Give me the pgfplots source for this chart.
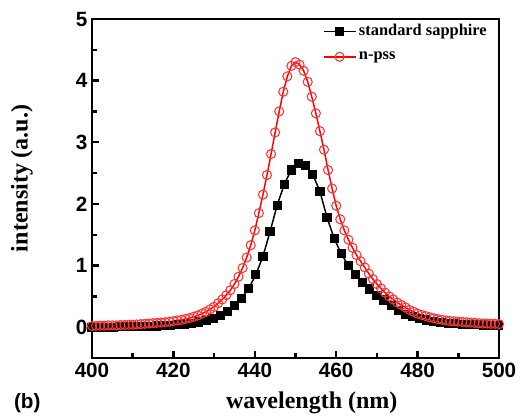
\documentclass[border=0pt]{standalone}
\usepackage{fontspec}
\setmainfont{Liberation Serif}
\setsansfont{Liberation Sans}
\usepackage{pgfplots}
\pgfplotsset{compat=1.18}

\pgfplotstableread{
x y
400 0.00
401.75 0.00
403.5 0.00
405.25 0.00
407 0.005
408.75 0.005
410.5 0.01
412.25 0.01
414 0.015
415.75 0.02
417.5 0.025
419.25 0.03
421 0.04
422.75 0.05
424.5 0.065
426.25 0.085
428 0.11
429.75 0.14
431.5 0.19
433.25 0.26
435 0.35
436.75 0.47
438.5 0.63
440.25 0.85
442 1.15
443.75 1.55
445.5 1.98
447.25 2.32
449 2.55
450.75 2.66
452.5 2.62
454.25 2.48
456 2.20
457.75 1.78
459.5 1.44
461.25 1.19
463 1.00
464.75 0.86
466.5 0.73
468.25 0.62
470 0.52
471.75 0.44
473.5 0.35
475.25 0.27
477 0.21
478.75 0.17
480.5 0.14
482.25 0.115
484 0.095
485.75 0.08
487.5 0.065
489.25 0.055
491 0.05
492.75 0.045
494.5 0.04
496.25 0.035
498 0.03
499.75 0.03
}\sapphire

\pgfplotstableread{
x y
400 0.02
401 0.02
402 0.025
403 0.025
404 0.03
405 0.03
406 0.03
407 0.035
408 0.035
409 0.04
410 0.04
411 0.045
412 0.05
413 0.055
414 0.06
415 0.065
416 0.07
417 0.075
418 0.08
419 0.09
420 0.10
421 0.11
422 0.12
423 0.135
424 0.15
425 0.17
426 0.19
427 0.22
428 0.25
429 0.29
430 0.33
431 0.39
432 0.45
433 0.52
434 0.60
435 0.70
436 0.82
437 0.96
438 1.13
439 1.33
440 1.57
441 1.85
442 2.15
443 2.47
444 2.81
445 3.16
446 3.50
447 3.82
448 4.07
449 4.24
450 4.30
451 4.26
452 4.16
453 3.98
454 3.74
455 3.47
456 3.18
457 2.88
458 2.55
459 2.25
460 1.97
461 1.75
462 1.57
463 1.42
464 1.29
465 1.17
466 1.07
467 0.97
468 0.87
469 0.78
470 0.70
471 0.63
472 0.56
473 0.50
474 0.45
475 0.40
476 0.36
477 0.32
478 0.28
479 0.25
480 0.22
481 0.20
482 0.18
483 0.16
484 0.145
485 0.13
486 0.12
487 0.11
488 0.10
489 0.095
490 0.09
491 0.085
492 0.08
493 0.075
494 0.07
495 0.065
496 0.06
497 0.06
498 0.055
499 0.055
500 0.05
}\npss

\begin{document}
\begin{tikzpicture}
\useasboundingbox (-69pt,-42.75pt) rectangle (321.75pt,268.5pt);
\begin{axis}[
  at={(0,0)}, anchor=south west,
  scale only axis, width=305.25pt, height=254.25pt,
  xmin=400, xmax=500, ymin=-0.5, ymax=5,
  xtick={400,420,...,500}, ytick={0,1,...,5},
  minor x tick num=1, minor y tick num=1,
  tick pos=left, tick align=inside,
  major tick length=5pt, minor tick length=3.5pt,
  every tick/.style={black, line width=1.8pt},
  axis line style={line width=2.2pt},
  /pgf/number format/assume math mode=true,
  ticklabel style={font=\sffamily\bfseries\fontsize{15.5}{18}\selectfont},
  xlabel={wavelength (nm)}, ylabel={intensity (a.u.)},
  label style={font=\rmfamily\bfseries\fontsize{18}{21}\selectfont},
  xlabel style={at={(axis description cs:0.54,-0.133)}, anchor=center},
  ylabel style={at={(axis description cs:-0.172,0.53)}, anchor=center},
  legend style={at={(1,1)}, anchor=north east, xshift=-6pt, yshift=-1pt,
    draw=none, fill=none, inner sep=1pt, row sep=6.5pt,
    font=\rmfamily\bfseries\fontsize{12.3}{14}\selectfont},
  legend cell align=left,
  legend image code/.code={\draw[mark repeat=2,mark phase=2,#1] plot coordinates {(0cm,0cm) (0.42cm,0cm) (0.84cm,0cm)};},
]
\addplot[black, line width=1.1pt, mark=square*, mark size=2.9pt, mark options={solid}] table {\sapphire};
\addlegendentry{standard sapphire}
\addplot[red, line width=1.1pt, mark=o, mark size=3.4pt, mark options={solid, line width=0.8pt, red!80!white}] table {\npss};
\addlegendentry{n-pss}
\end{axis}
\node[anchor=west, font=\sffamily\bfseries\fontsize{15.5}{18}\selectfont] at (-62pt,-33.75pt) {(b)};
\end{tikzpicture}
\end{document}
